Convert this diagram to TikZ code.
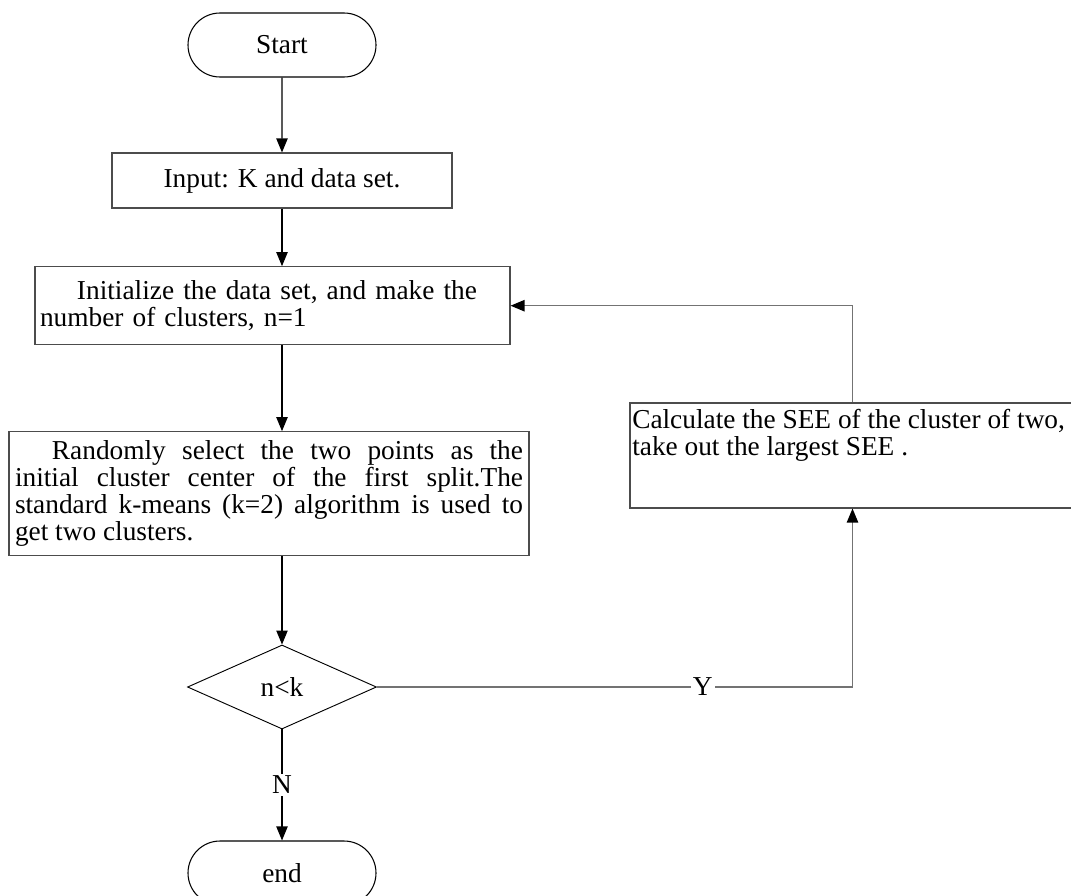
\documentclass[tikz,border=0pt]{standalone}
\usepackage{fontspec}
\setmainfont{Liberation Serif}
\usetikzlibrary{arrows.meta,shapes.misc,shapes.geometric}
\begin{document}
\begin{tikzpicture}[x=0.75pt,y=-0.75pt,
  every node/.style={font=\fontsize{20.5pt}{20.25pt}\selectfont, inner sep=0pt},
  terminal/.style={draw=black, line width=0.8pt, rounded rectangle, minimum width=141pt, minimum height=48pt},
  procbox/.style={draw=black!70, line width=0.8pt, rectangle},
  decision/.style={draw=black, line width=0.7pt, diamond, minimum width=141.75pt, minimum height=63pt},
  arr/.style={draw=black, line width=0.8pt, -{Triangle[width=8.5pt,length=10.5pt]}},
  looparr/.style={draw=black!55, line width=1pt, -{Triangle[width=8.5pt,length=10.5pt,black]}},
  lbl/.style={fill=white, inner sep=1.5pt}
]
\useasboundingbox (0,0) rectangle (1071,896);

\node[terminal] (start) at (282,45) {Start};
\node[procbox, minimum width=255pt, minimum height=41.25pt] (input) at (282,180.5) {Input: K and data set.};
\node[procbox, minimum width=356.25pt, minimum height=58.5pt, text width=348.75pt, align=left] (init) at (272.5,305.7)
  {\hspace*{27.75pt}Initialize the data set, and make the\\number of clusters, n=1};
\node[procbox, minimum width=390pt, minimum height=93pt, text width=381pt, align=justify] (rand) at (269,493.7)
  {\hspace*{27.75pt}Randomly select the two points as the\linebreak initial cluster center of the first split.The\linebreak standard k-means (k=2) algorithm is used to\linebreak get two clusters.};
\node[decision] (dec) at (282,687) {n<k};
\node[terminal] (end) at (282,873) {end};
\node[procbox, minimum width=333.75pt, minimum height=78.75pt] (calc) at (852.5,455.5) {};
\node[anchor=west, align=left] (calctext) at (632,435.5)
  {Calculate the SEE of the cluster of two,\\take out the largest SEE .};

\coordinate (ycorner) at (dec.east -| calc.south);

\draw[arr] (start) -- (input);
\draw[arr] (input.south) -- (input.south |- init.north);
\draw[arr] (init.south -| start.south) -- (rand.north -| start.south);
\draw[arr] (rand.south -| dec.north) -- (dec.north);
\draw[arr] (dec.south) -- node[lbl] (nlab) {N} (end.north);
\draw[looparr] (dec.east) -- node[lbl, pos=0.685] (ylab) {Y} (ycorner) -- (calc.south);
\draw[looparr] (calc.north) |- (init.east);
\end{tikzpicture}
\end{document}
